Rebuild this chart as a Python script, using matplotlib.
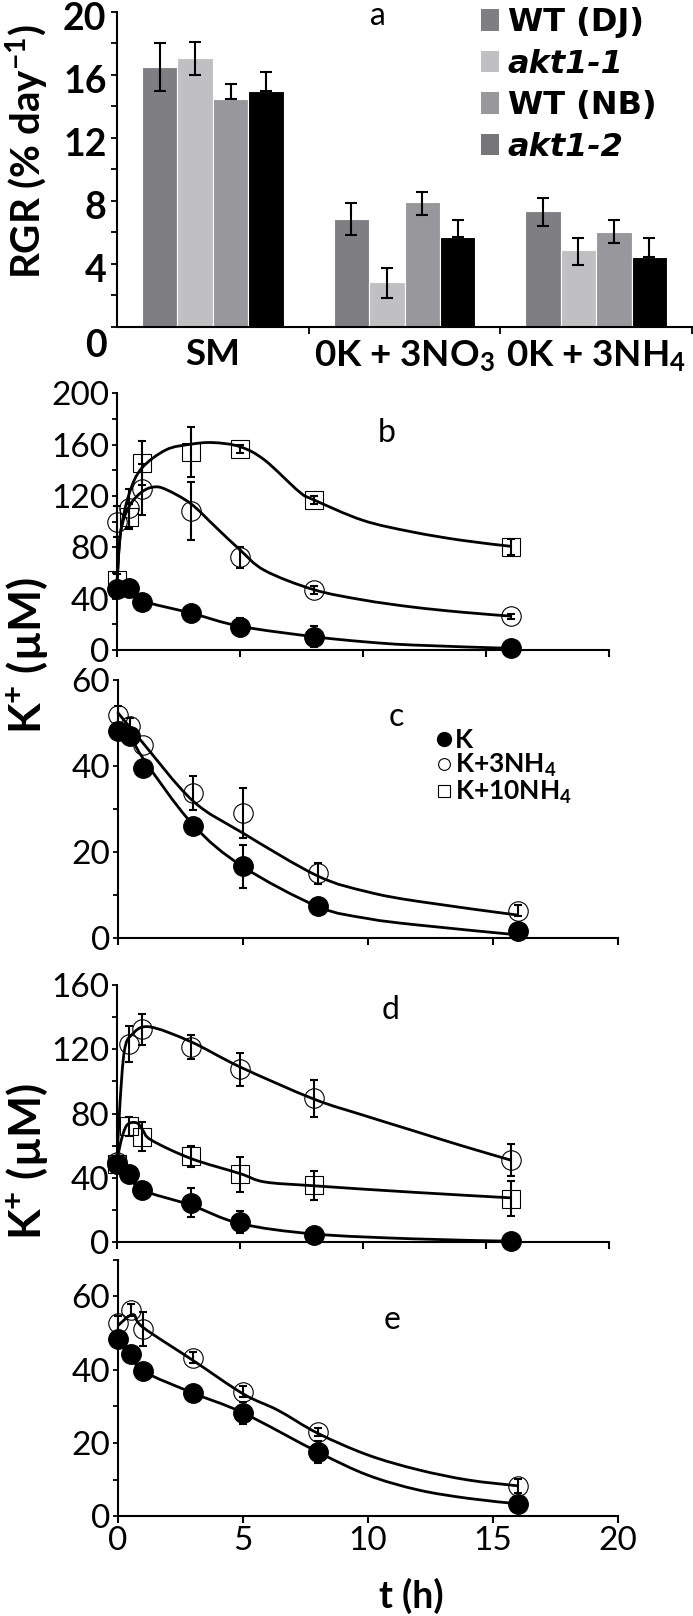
import numpy as np
import matplotlib
matplotlib.use("Agg")
import matplotlib.pyplot as plt
from matplotlib.path import Path
from matplotlib.patches import PathPatch, Patch
from matplotlib.lines import Line2D
from matplotlib.ticker import MultipleLocator
from matplotlib.transforms import ScaledTranslation

plt.rcParams['font.family'] = ['Lato', 'DejaVu Sans']
plt.rcParams['mathtext.fontset'] = 'custom'
plt.rcParams['mathtext.rm'] = 'Lato'
plt.rcParams['mathtext.bf'] = 'Lato:bold'
plt.rcParams['mathtext.default'] = 'regular'

NARROW = ['Liberation Sans Narrow', 'Lato', 'DejaVu Sans']
WIDE = ['DejaVu Sans']

# ---- panel a: relative growth rate ----
groups = ['SM', '0K + 3NO$_3$', '0K + 3NH$_4$']
lines_a = ['WT (DJ)', 'akt1-1', 'WT (NB)', 'akt1-2']
rgr = [[16.5, 6.85, 7.35],
       [17.1, 2.85, 4.85],
       [14.5, 7.9, 6.05],
       [14.95, 5.7, 4.45]]
rgr_lo = [[1.5, 1.0, 0.95],
          [1.1, 1.0, 0.95],
          [0.0, 0.8, 0.75],
          [0.0, 0.0, 0.0]]
rgr_hi = [[1.5, 1.0, 0.8],
          [1.0, 0.85, 0.8],
          [0.95, 0.65, 0.75],
          [1.25, 1.1, 1.2]]
bar_colors = ['#7f7f83', '#c0c0c2', '#98989c', '#000000']
swatch_colors = ['#7f7f83', '#c0c0c2', '#98989c', '#76767a']

# ---- time courses ----
t = [0, 0.5, 1, 3, 5, 8, 16]

b_k = [47.5, 48, 37.7, 29, 18.2, 10.4, 1.3]
b_k_err = [0, 0, 0, 0, 7, 8, 0]
b_k3 = [100, 110.4, 125.2, 108.3, 72.2, 46.6, 26.4]
b_k3_err = [12, 15, 20, 22.5, 8, 3, 2]
b_k10 = [54.5, 104, 145.5, 154.5, 156.6, 117.1, 80.3]
b_k10_err = [5, 10, 17, 19.5, 3, 3, 6]

c_k = [48.1, 46.9, 39.5, 26.1, 16.7, 7.4, 1.7]
c_k_err = [0, 0, 0, 0, 5, 1.5, 0]
c_k3 = [51.9, 49.2, 45, 33.7, 29.1, 15.1, 6.4]
c_k3_err = [2, 2, 0, 4, 5.7, 2.5, 1.3]

d_k = [48.8, 42.2, 32.6, 24.5, 12.5, 4.6, 0.5]
d_k_err = [0, 0, 0, 9, 7, 3, 0]
d_k3 = [50, 123.2, 132.4, 121.6, 107.4, 89.4, 50.9]
d_k3_err = [0, 11, 9.7, 7.5, 10, 11.5, 10]
d_k10 = [48.8, 72.1, 65.5, 53.4, 42.2, 35.3, 27]
d_k10_err = [0, 6, 9, 6.5, 11, 9, 11]

e_k = [48.3, 44.3, 39.6, 33.6, 28.2, 17.5, 3.4]
e_k_err = [0, 0, 0, 0, 3, 3, 0]
e_k3 = [52.6, 56.3, 51, 43.2, 33.9, 23.0, 8.3]
e_k3_err = [2, 1.7, 4.6, 1.5, 1.5, 1, 2]

# smoothed curves (anchors)
b_k_ct = [0, 0.5, 1, 3, 5, 8, 10, 12, 16]
b_k_cy = [47.5, 47, 38.5, 28.8, 18.5, 10.4, 6.5, 3.9, 1.3]
b_k3_ct = [0, 0.15, 0.5, 1, 1.5, 2, 3, 4, 5, 6, 8, 10, 12, 14, 16]
b_k3_cy = [52, 92, 112, 123, 127, 125, 114, 96, 78, 62, 47, 39, 33.5, 29.5, 26.4]
b_k10_ct = [0, 0.15, 0.5, 1, 2, 3, 3.9, 5, 6, 7.4, 8, 10, 12, 14, 16]
b_k10_cy = [52, 92, 122, 141.5, 156, 160.3, 161.6, 158.4, 148, 123.4, 117, 101, 92, 85.5, 80.8]

c_k_ct = [0, 0.5, 1, 3, 5, 8, 10, 12, 16]
c_k_cy = [50, 47.5, 42, 26.5, 16.7, 7.4, 4.6, 3.1, 0.8]
c_k3_ct = [0, 0.5, 1, 3, 5, 8, 10, 12, 16]
c_k3_cy = [52.5, 49, 45.5, 32, 24.5, 14.5, 10.8, 8.6, 5.4]

d_k_ct = [0, 0.5, 1, 3, 5, 8, 12, 16]
d_k_cy = [49, 42, 32.5, 23, 11.5, 5, 2, 0.5]
d_k3_ct = [0, 0.12, 0.3, 0.6, 1.3, 3, 5, 8, 10, 12, 14, 16]
d_k3_cy = [50, 86, 119, 129, 134, 124.7, 109, 89, 79, 69.5, 60, 51]
d_k10_ct = [0, 0.15, 0.4, 0.8, 1.05, 1.4, 3, 5, 6, 8, 12, 16]
d_k10_cy = [50, 62, 72.7, 74.2, 69.6, 63.4, 52, 42.6, 37.4, 35, 31, 27.5]

e_k_ct = [0, 0.5, 1, 3, 5, 8, 10, 12, 14, 16]
e_k_cy = [48.3, 44.3, 39.6, 33.6, 28.2, 17.5, 11.2, 7.2, 4.9, 3.4]
e_k3_ct = [0, 0.6, 1, 3, 5, 6.4, 8, 10, 12, 14, 16]
e_k3_cy = [52, 55, 51.5, 42.5, 33.4, 28.9, 22.6, 16.7, 12.7, 9.9, 8.3]

leg_labels = ['K', 'K+3NH$_4$', 'K+10NH$_4$']

W, H = 693, 1616
fig = plt.figure(figsize=(W / 100, H / 100), dpi=100)


def add_axes(left, right, top, bottom):
    return fig.add_axes([left / W, 1 - bottom / H, (right - left) / W, (bottom - top) / H])


def smooth_curve(ax, ts, ys):
    pts = np.column_stack([ts, ys]).astype(float)
    verts = [pts[0]]
    codes = [Path.MOVETO]
    n = len(pts)
    for i in range(n - 1):
        p0 = pts[max(i - 1, 0)]
        p1 = pts[i]
        p2 = pts[i + 1]
        p3 = pts[min(i + 2, n - 1)]
        verts += [p1 + (p2 - p0) / 6, p2 - (p3 - p1) / 6, p2]
        codes += [Path.CURVE4] * 3
    ax.add_patch(PathPatch(Path(verts, codes), fill=False, lw=2.0,
                           edgecolor='k', zorder=2, clip_on=False))


def points(ax, ys, err, kind):
    ys = np.asarray(ys, float)
    err = np.asarray(err, float)
    tt = np.asarray(t, float)
    if kind == 'k':
        ax.plot(tt, ys, 'o', ms=14, color='k', zorder=4, clip_on=False)
    elif kind == 'k3':
        ax.plot(tt, ys, 'o', ms=14, mfc='none', mec='k', mew=0.8, zorder=4, clip_on=False)
    else:
        ax.plot(tt, ys, 's', ms=12.5, mfc='none', mec='k', mew=0.8, zorder=4, clip_on=False)
    m = err > 0
    ax.errorbar(tt[m], ys[m], yerr=err[m], fmt='none', ecolor='k', elinewidth=1.5,
                capsize=3.2, capthick=1.5, zorder=5, clip_on=False)


def style_line_axes(ax, ymax, major, minor, right_x=20, xlabels=False):
    ax.set_xlim(0, right_x)
    ax.set_ylim(0, ymax)
    ax.xaxis.set_major_locator(MultipleLocator(5))
    ax.yaxis.set_major_locator(MultipleLocator(major))
    ax.yaxis.set_minor_locator(MultipleLocator(minor))
    for s in ['top', 'right']:
        ax.spines[s].set_visible(False)
    for s in ['left', 'bottom']:
        ax.spines[s].set_linewidth(1.5)
    ax.tick_params(axis='y', which='both', direction='out', length=3.5, width=1.3,
                   labelsize=24, pad=2, labelfontfamily=NARROW)
    ax.tick_params(axis='x', which='both', direction='out', length=5, width=1.5,
                   labelsize=24, pad=2, labelbottom=xlabels, labelfontfamily=NARROW)


def panel_letter(x, y, s):
    fig.text(x / W, 1 - y / H, s, ha='center', va='center', fontsize=23, family=NARROW)


# panel a
ax_a = add_axes(117, 692, 12, 326.7)
x = np.arange(len(groups))
w = 0.185
for i in range(4):
    ax_a.bar(x + (i - 1.5) * w, rgr[i], w, color=bar_colors[i], edgecolor='white',
             linewidth=0.8, zorder=2)
    ax_a.errorbar(x + (i - 1.5) * w, rgr[i], yerr=[rgr_lo[i], rgr_hi[i]], fmt='none',
                  ecolor='k', elinewidth=1.5, capsize=4, capthick=1.5, zorder=3)
ax_a.set_xlim(-0.5, 2.5)
ax_a.set_ylim(0, 20)
ax_a.yaxis.set_major_locator(MultipleLocator(4))
ax_a.yaxis.set_minor_locator(MultipleLocator(2))
ax_a.set_xticks(x)
ax_a.set_xticklabels(groups, fontsize=26.5, fontweight='bold')
ax_a.set_xticks([0.5, 1.5, 2.5], minor=True)
for s in ['top', 'right']:
    ax_a.spines[s].set_visible(False)
for s in ['left', 'bottom']:
    ax_a.spines[s].set_linewidth(1.5)
ax_a.tick_params(axis='x', which='major', length=0, pad=8)
ax_a.tick_params(axis='x', which='minor', length=5, width=1.3, direction='out')
ax_a.tick_params(axis='y', which='both', length=4.5, width=1.3, direction='out',
                 labelsize=27, pad=3)
for lab in ax_a.get_yticklabels():
    lab.set_fontweight('bold')
    off = -16 if lab.get_text() in ('0', '$0$') else -4
    lab.set_transform(lab.get_transform() + ScaledTranslation(0, off / 100, fig.dpi_scale_trans))
fig.text(27 / W, 1 - 152 / H, 'RGR (% day$^{-1}$)', rotation=90, ha='center', va='center',
         fontsize=29, fontweight='bold')
fig.text(378 / W, 1 - 1 / H, 'a', ha='center', va='top', fontsize=23, family=NARROW)
handles = [Patch(facecolor=c, edgecolor='none') for c in swatch_colors]
leg = ax_a.legend(handles, lines_a, loc='upper left', bbox_to_anchor=(481 / W, 1 - 7 / H),
                  bbox_transform=fig.transFigure, frameon=False,
                  prop={'family': WIDE, 'size': 23, 'weight': 'bold'},
                  handlelength=0.56, handleheight=0.66, handletextpad=0.28,
                  labelspacing=0.33, borderpad=0, borderaxespad=0)
for txt in leg.get_texts():
    if txt.get_text().startswith('akt'):
        txt.set_fontstyle('italic')

# panel b
ax_b = add_axes(117, 609, 393.3, 650)
style_line_axes(ax_b, 200, 40, 20)
smooth_curve(ax_b, b_k_ct, b_k_cy)
smooth_curve(ax_b, b_k3_ct, b_k3_cy)
smooth_curve(ax_b, b_k10_ct, b_k10_cy)
points(ax_b, b_k, b_k_err, 'k')
points(ax_b, b_k3, b_k3_err, 'k3')
points(ax_b, b_k10, b_k10_err, 'k10')
panel_letter(387, 433, 'b')

# panel c
ax_c = add_axes(117.5, 617.5, 680, 938.3)
style_line_axes(ax_c, 60, 20, 10)
smooth_curve(ax_c, c_k_ct, c_k_cy)
smooth_curve(ax_c, c_k3_ct, c_k3_cy)
points(ax_c, c_k, c_k_err, 'k')
points(ax_c, c_k3, c_k3_err, 'k3')
panel_letter(396, 717, 'c')
leg_handles = [Line2D([], [], ls='none', marker='o', ms=10, color='k'),
               Line2D([], [], ls='none', marker='o', ms=8.5, mfc='none', mec='k', mew=0.8),
               Line2D([], [], ls='none', marker='s', ms=8.5, mfc='none', mec='k', mew=0.8)]
leg_c = ax_c.legend(leg_handles, leg_labels, loc='upper left',
                    bbox_to_anchor=(437 / W, 1 - 728 / H), bbox_transform=fig.transFigure,
                    frameon=False, prop={'size': 19, 'weight': 'bold'},
                    handlelength=0.55, handletextpad=0.12,
                    labelspacing=0.0, borderpad=0, borderaxespad=0)

# panel d
ax_d = add_axes(117, 609, 985, 1242)
style_line_axes(ax_d, 160, 40, 20)
smooth_curve(ax_d, d_k_ct, d_k_cy)
smooth_curve(ax_d, d_k3_ct, d_k3_cy)
smooth_curve(ax_d, d_k10_ct, d_k10_cy)
points(ax_d, d_k, d_k_err, 'k')
points(ax_d, d_k3, d_k3_err, 'k3')
points(ax_d, d_k10, d_k10_err, 'k10')
panel_letter(391, 1010, 'd')

# panel e
ax_e = add_axes(118, 618, 1259.5, 1516.3)
style_line_axes(ax_e, 70, 20, 10, xlabels=True)
smooth_curve(ax_e, e_k_ct, e_k_cy)
smooth_curve(ax_e, e_k3_ct, e_k3_cy)
points(ax_e, e_k, e_k_err, 'k')
points(ax_e, e_k3, e_k3_err, 'k3')
panel_letter(392, 1320, 'e')

fig.text(27 / W, 1 - 655 / H, 'K$^{+}$ (µM)', rotation=90, ha='center', va='center',
         fontsize=32, fontweight='bold')
fig.text(27 / W, 1 - 1161 / H, 'K$^{+}$ (µM)', rotation=90, ha='center', va='center',
         fontsize=32, fontweight='bold')
fig.text(411 / W, 1 - 1596 / H, 't (h)', ha='center', va='center', fontsize=27,
         fontweight='bold')

fig.savefig('out.png', dpi=100)
